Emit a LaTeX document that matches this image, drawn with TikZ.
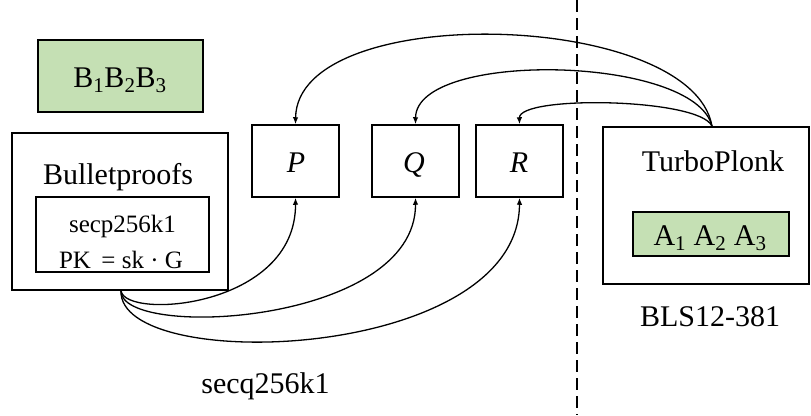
\documentclass[tikz,border=0pt]{standalone}
\usepackage{fontspec}
\setmainfont{Liberation Serif}
\usetikzlibrary{arrows.meta}
\definecolor{lgreen}{HTML}{C5E0B4}
\tikzset{
  boxs/.style={draw=black, line width=1.5pt, inner sep=0pt, fill=white},
  greenbox/.style={boxs, fill=lgreen},
  big/.style={font=\fontsize{30}{35}\selectfont, inner sep=0pt, anchor=base},
  small/.style={font=\fontsize{25}{29}\selectfont, inner sep=0pt, anchor=base},
  conn/.style={line width=1.3pt, -{Latex[length=7pt,width=5.5pt]}},
  divider/.style={line width=1.8pt, dash pattern=on 12pt off 6pt}
}
\begin{document}
\begin{tikzpicture}[x=1pt,y=-1pt]
\useasboundingbox[fill=white] (0,0) rectangle (811,415);
% divider
\coordinate (dtop) at (577,0);
\coordinate (dbot) at (577,415);
\draw[divider] (dtop) -- (dbot);
% green B box
\node[greenbox, minimum width=165pt, minimum height=72pt] (bbox) at (120.5,76) {};
\node[big] (btext) at (120,87.5) {B\textsubscript{1}B\textsubscript{2}B\textsubscript{3}};
% Bulletproofs
\node[boxs, minimum width=216pt, minimum height=157pt] (bp) at (120,211.5) {};
\node[big] (bptext) at (118,184) {Bulletproofs};
\node[boxs, minimum width=173pt, minimum height=75pt] (inner) at (122.5,234.5) {};
\node[small] (secp) at (122.5,232) {secp256k1};
\node[small] (pk) at (121,268) {PK\, = sk · G};
% P Q R
\node[boxs, minimum width=87pt, minimum height=72pt] (P) at (295.5,161) {};
\node[boxs, minimum width=87pt, minimum height=72pt] (Q) at (415.5,161) {};
\node[boxs, minimum width=87pt, minimum height=72pt] (R) at (519.5,161) {};
\node[big] (Pt) at (296,172.5) {\textit{P}};
\node[big] (Qt) at (414,172.5) {\textit{Q}};
\node[big] (Rt) at (519,172.5) {\textit{R}};
% TurboPlonk
\node[boxs, minimum width=206pt, minimum height=157pt] (tp) at (706,205.5) {};
\node[big] (tptext) at (713,171) {TurboPlonk};
\node[greenbox, minimum width=156pt, minimum height=44pt] (abox) at (711,234) {};
\node[big] (atext) at (710,245) {A\textsubscript{1} A\textsubscript{2} A\textsubscript{3}};
\node[big] (bls) at (710,326) {BLS12-381};
\node[big] (secq) at (265.5,393) {secq256k1};
% top arrows
\draw[conn] ([xshift=6pt]tp.north) .. controls (692,10) and (297,0) .. (P.north);
\draw[conn] ([xshift=6pt]tp.north) .. controls (695,55) and (416,50) .. (Q.north);
\draw[conn] ([xshift=6pt]tp.north) .. controls (700,98) and (519,95) .. (R.north);
% bottom arrows
\draw[conn] ([xshift=1pt]bp.south) .. controls (125,320) and (296,308) .. (P.south);
\draw[conn] ([xshift=1pt]bp.south) .. controls (120,340) and (416,325) .. (Q.south);
\draw[conn] ([xshift=1pt]bp.south) .. controls (118,375) and (519,362) .. (R.south);
\end{tikzpicture}
\end{document}
